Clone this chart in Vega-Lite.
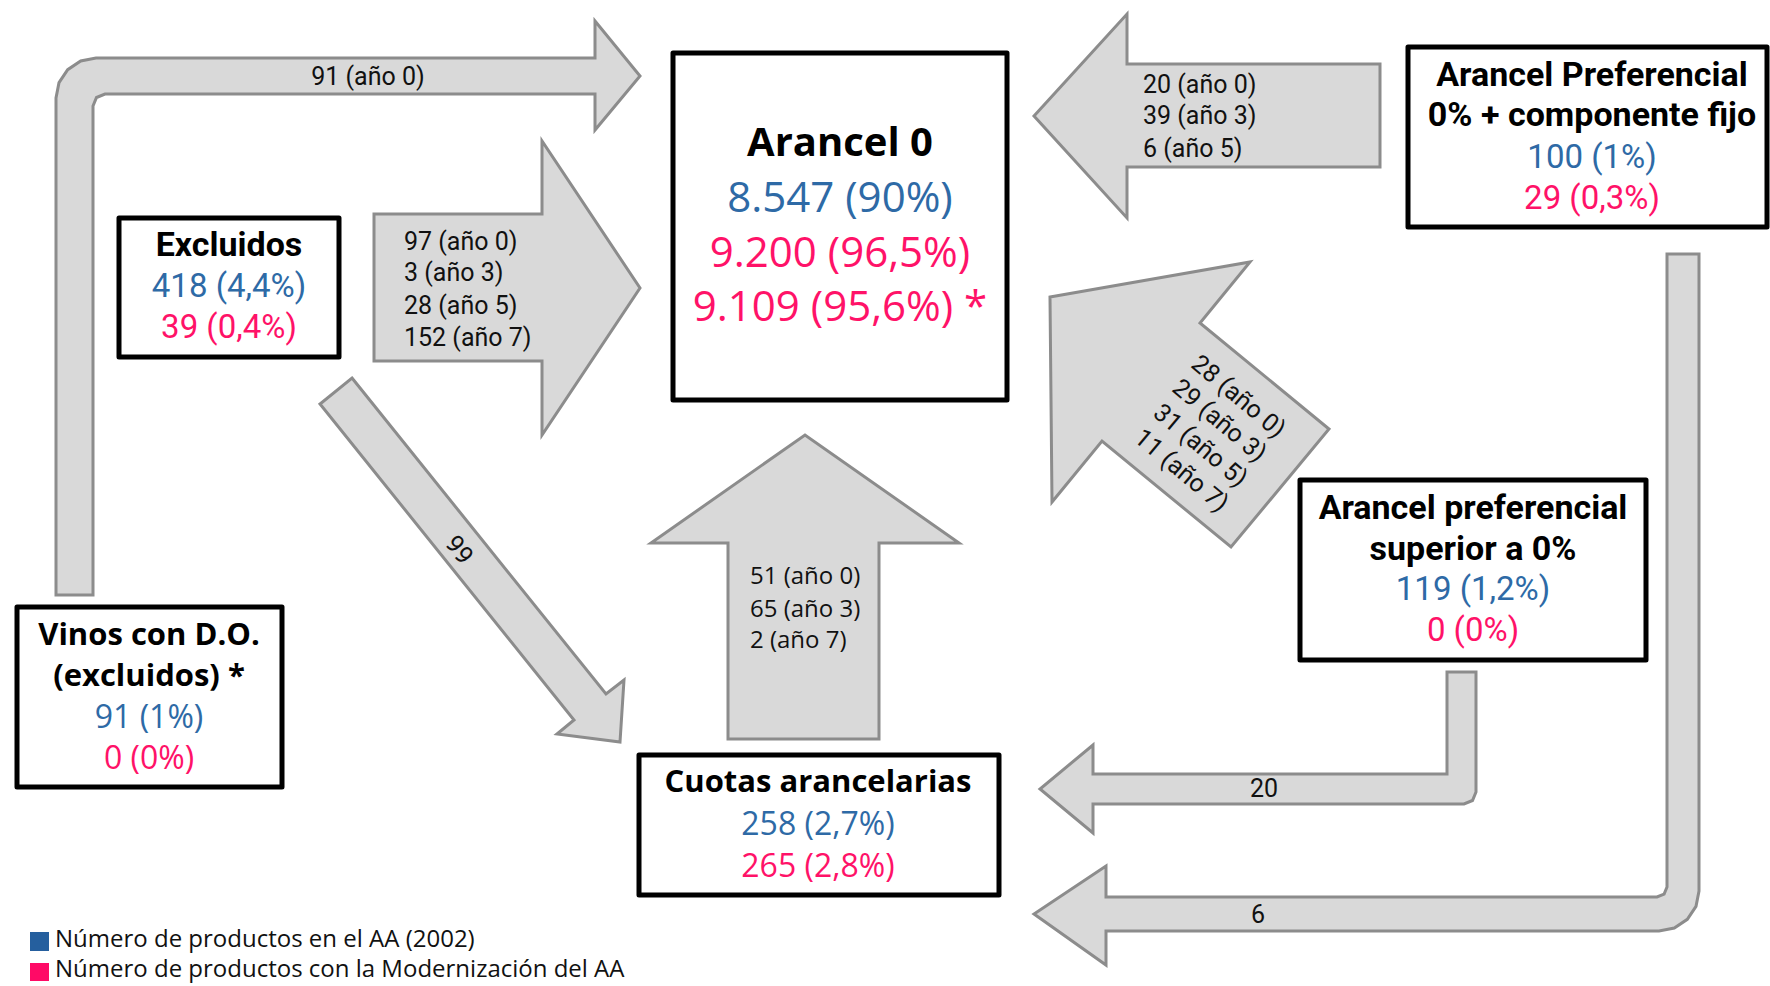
{
  "$schema": "https://vega.github.io/schema/vega-lite/v6.json",
  "width": 1770,
  "height": 986,
  "padding": 0,
  "autosize": "none",
  "background": "white",
  "config": {"view": {"stroke": null}},
  "projection": {"type": "identity", "scale": 1, "translate": [0, 0]},
  "datasets": {
    "arrows": [
      {"type": "Feature", "properties": {"id": "wines_to_zero"}, "geometry": {"type": "Polygon", "coordinates": [[[56,595],[56,98],[59,82.7],[67.7,69.7],[80.7,61],[96,58],[595,58],[595,21],[640,76],[595,130],[595,94],[105,94],[96.5,97.5],[93,106],[93,595],[56,595]]]}},
      {"type": "Feature", "properties": {"id": "excl_to_zero"}, "geometry": {"type": "Polygon", "coordinates": [[[374,214],[542,214],[542,141],[640,288],[542,435],[542,361],[374,361],[374,214]]]}},
      {"type": "Feature", "properties": {"id": "excl_to_quota"}, "geometry": {"type": "Polygon", "coordinates": [[[352,378],[606,694],[624,680],[620,742],[557,734],[574,720],[320,404],[352,378]]]}},
      {"type": "Feature", "properties": {"id": "pref_to_zero"}, "geometry": {"type": "Polygon", "coordinates": [[[1380,64],[1127,64],[1127,14],[1034,116],[1127,218],[1127,167],[1380,167],[1380,64]]]}},
      {"type": "Feature", "properties": {"id": "sup_to_zero"}, "geometry": {"type": "Polygon", "coordinates": [[[1050,297],[1250,262],[1200,323],[1329,429],[1231,547],[1102,441],[1052,502],[1050,297]]]}},
      {"type": "Feature", "properties": {"id": "pref_to_quota"}, "geometry": {"type": "Polygon", "coordinates": [[[1667,254],[1699,254],[1699,891],[1696,906.3],[1687.3,919.3],[1674.3,928],[1659,931],[1106,931],[1106,965],[1034,914],[1106,866],[1106,897],[1657,897],[1664.1,894.1],[1667,887],[1667,254]]]}},
      {"type": "Feature", "properties": {"id": "sup_to_quota"}, "geometry": {"type": "Polygon", "coordinates": [[[1447,672],[1476,672],[1476,792],[1472.5,800.5],[1464,804],[1093,804],[1093,833],[1040,789],[1093,745],[1093,774],[1447,774],[1447,672]]]}},
      {"type": "Feature", "properties": {"id": "quota_to_zero"}, "geometry": {"type": "Polygon", "coordinates": [[[728,739],[728,543],[651,543],[805,435],[959,543],[879,543],[879,739],[728,739]]]}}
    ],
    "boxes": [
      {"type": "Feature", "properties": {"id": "excluidos"}, "geometry": {"type": "Polygon", "coordinates": [[[119,218],[339,218],[339,357],[119,357],[119,218]]]}},
      {"type": "Feature", "properties": {"id": "arancel0"}, "geometry": {"type": "Polygon", "coordinates": [[[673,53],[1007,53],[1007,400],[673,400],[673,53]]]}},
      {"type": "Feature", "properties": {"id": "pref"}, "geometry": {"type": "Polygon", "coordinates": [[[1408,47],[1767,47],[1767,227],[1408,227],[1408,47]]]}},
      {"type": "Feature", "properties": {"id": "superior"}, "geometry": {"type": "Polygon", "coordinates": [[[1300,480],[1646,480],[1646,660],[1300,660],[1300,480]]]}},
      {"type": "Feature", "properties": {"id": "cuotas"}, "geometry": {"type": "Polygon", "coordinates": [[[639,755],[999,755],[999,895],[639,895],[639,755]]]}},
      {"type": "Feature", "properties": {"id": "vinos"}, "geometry": {"type": "Polygon", "coordinates": [[[17,607],[282,607],[282,787],[17,787],[17,607]]]}}
    ],
    "legend": [
      {"type": "Feature", "properties": {"series": "orig"}, "geometry": {"type": "Polygon", "coordinates": [[[30,932],[49,932],[49,951],[30,951],[30,932]]]}},
      {"type": "Feature", "properties": {"series": "mod"}, "geometry": {"type": "Polygon", "coordinates": [[[30,963],[49,963],[49,981],[30,981],[30,963]]]}}
    ],
    "texts": [
      {"g": "a0t", "s": "title", "x": 840, "y": 144, "t": "Arancel 0"},
      {"g": "a0v", "s": "orig", "x": 840, "y": 199, "t": "8.547 (90%)"},
      {"g": "a0v", "s": "mod", "x": 840, "y": 254, "t": "9.200 (96,5%)"},
      {"g": "a0v", "s": "mod", "x": 840, "y": 308, "t": "9.109 (95,6%) *"},

      {"g": "wt", "s": "title", "x": 818, "y": 783, "t": "Cuotas arancelarias"},
      {"g": "wv", "s": "orig", "x": 818, "y": 825, "t": "258 (2,7%)"},
      {"g": "wv", "s": "mod", "x": 818, "y": 867, "t": "265 (2,8%)"},

      {"g": "wt", "s": "title", "x": 149, "y": 636, "t": "Vinos con D.O."},
      {"g": "wt", "s": "title", "x": 149, "y": 677, "t": "(excluidos) *"},
      {"g": "wv", "s": "orig", "x": 149, "y": 718, "t": "91 (1%)"},
      {"g": "wv", "s": "mod", "x": 149, "y": 759, "t": "0 (0%)"},

      {"g": "nt", "s": "title", "x": 229, "y": 246, "t": "Excluidos"},
      {"g": "nv", "s": "orig", "x": 229, "y": 287, "t": "418 (4,4%)"},
      {"g": "nv", "s": "mod", "x": 229, "y": 328, "t": "39 (0,4%)"},

      {"g": "nt", "s": "title", "x": 1592, "y": 76, "t": "Arancel Preferencial"},
      {"g": "nt", "s": "title", "x": 1592, "y": 116, "t": "0% + componente fijo"},
      {"g": "nv", "s": "orig", "x": 1592, "y": 158, "t": "100 (1%)"},
      {"g": "nv", "s": "mod", "x": 1592, "y": 199, "t": "29 (0,3%)"},

      {"g": "nt", "s": "title", "x": 1473, "y": 509, "t": "Arancel preferencial"},
      {"g": "nt", "s": "title", "x": 1473, "y": 550, "t": "superior a 0%"},
      {"g": "nv", "s": "orig", "x": 1473, "y": 590, "t": "119 (1,2%)"},
      {"g": "nv", "s": "mod", "x": 1473, "y": 631, "t": "0 (0%)"},

      {"g": "lab", "s": "title", "x": 404, "y": 242, "t": "97 (año 0)"},
      {"g": "lab", "s": "title", "x": 404, "y": 273, "t": "3 (año 3)"},
      {"g": "lab", "s": "title", "x": 404, "y": 306, "t": "28 (año 5)"},
      {"g": "lab", "s": "title", "x": 404, "y": 338, "t": "152 (año 7)"},
      {"g": "lab", "s": "title", "x": 1143, "y": 85, "t": "20 (año 0)"},
      {"g": "lab", "s": "title", "x": 1143, "y": 116, "t": "39 (año 3)"},
      {"g": "lab", "s": "title", "x": 1143, "y": 149, "t": "6 (año 5)"},

      {"g": "labw", "s": "title", "x": 750, "y": 577, "t": "51 (año 0)"},
      {"g": "labw", "s": "title", "x": 750, "y": 610, "t": "65 (año 3)"},
      {"g": "labw", "s": "title", "x": 750, "y": 641, "t": "2 (año 7)"},

      {"g": "labc", "s": "title", "x": 368, "y": 77, "t": "91 (año 0)"},
      {"g": "labc", "s": "title", "x": 1264, "y": 789, "t": "20"},
      {"g": "labc", "s": "title", "x": 1258, "y": 915, "t": "6"},

      {"g": "rot", "s": "title", "x": 459, "y": 550, "t": "99"},

      {"g": "diag", "s": "title", "x": 1195, "y": 360, "t": "28 (año 0)"},
      {"g": "diag", "s": "title", "x": 1176, "y": 384, "t": "29 (año 3)"},
      {"g": "diag", "s": "title", "x": 1157, "y": 409, "t": "31 (año 5)"},
      {"g": "diag", "s": "title", "x": 1138, "y": 434, "t": "11 (año 7)"},

      {"g": "leg", "s": "title", "x": 55, "y": 940, "t": "Número de productos en el AA (2002)"},
      {"g": "leg", "s": "title", "x": 55, "y": 970, "t": "Número de productos con la Modernización del AA"}
    ]
  },
  "layer": [
    {
      "data": {"name": "arrows"},
      "mark": {"type": "geoshape", "fill": "#D9D9D9", "stroke": "#8C8C8C", "strokeWidth": 3, "strokeJoin": "miter"}
    },
    {
      "data": {"name": "boxes"},
      "mark": {"type": "geoshape", "fill": "#FFFFFF", "stroke": "#000000", "strokeWidth": 5, "strokeJoin": "round"}
    },
    {
      "data": {"name": "legend"},
      "transform": [{"filter": "datum.properties.series == 'orig'"}],
      "mark": {"type": "geoshape", "fill": "#255F9E", "strokeWidth": 0}
    },
    {
      "data": {"name": "legend"},
      "transform": [{"filter": "datum.properties.series == 'mod'"}],
      "mark": {"type": "geoshape", "fill": "#FF0A66", "strokeWidth": 0}
    },
    {
      "data": {"name": "texts"},
      "transform": [{"filter": "datum.g == 'a0t'"}],
      "mark": {"type": "text", "font": "Open Sans", "fontWeight": "bold", "fontSize": 40, "align": "center", "baseline": "middle", "color": "#000000"},
      "encoding": {"longitude": {"field": "x", "type": "quantitative"}, "latitude": {"field": "y", "type": "quantitative"}, "text": {"field": "t"}}
    },
    {
      "data": {"name": "texts"},
      "transform": [{"filter": "datum.g == 'a0v'"}],
      "mark": {"type": "text", "font": "Open Sans", "fontSize": 42, "align": "center", "baseline": "middle"},
      "encoding": {"longitude": {"field": "x", "type": "quantitative"}, "latitude": {"field": "y", "type": "quantitative"}, "text": {"field": "t"},
        "color": {"field": "s", "type": "nominal", "scale": {"domain": ["title", "orig", "mod"], "range": ["#000000", "#2E6AA6", "#FF1268"]}, "legend": null}}
    },
    {
      "data": {"name": "texts"},
      "transform": [{"filter": "datum.g == 'wt'"}],
      "mark": {"type": "text", "font": "Open Sans", "fontWeight": "bold", "fontSize": 31, "align": "center", "baseline": "middle", "color": "#000000"},
      "encoding": {"longitude": {"field": "x", "type": "quantitative"}, "latitude": {"field": "y", "type": "quantitative"}, "text": {"field": "t"}}
    },
    {
      "data": {"name": "texts"},
      "transform": [{"filter": "datum.g == 'wv'"}],
      "mark": {"type": "text", "font": "Open Sans", "fontSize": 32, "align": "center", "baseline": "middle"},
      "encoding": {"longitude": {"field": "x", "type": "quantitative"}, "latitude": {"field": "y", "type": "quantitative"}, "text": {"field": "t"},
        "color": {"field": "s", "type": "nominal", "scale": {"domain": ["title", "orig", "mod"], "range": ["#000000", "#2E6AA6", "#FF1268"]}, "legend": null}}
    },
    {
      "data": {"name": "texts"},
      "transform": [{"filter": "datum.g == 'nt'"}],
      "mark": {"type": "text", "font": "Roboto", "fontWeight": "bold", "fontSize": 34, "align": "center", "baseline": "middle", "color": "#000000"},
      "encoding": {"longitude": {"field": "x", "type": "quantitative"}, "latitude": {"field": "y", "type": "quantitative"}, "text": {"field": "t"}}
    },
    {
      "data": {"name": "texts"},
      "transform": [{"filter": "datum.g == 'nv'"}],
      "mark": {"type": "text", "font": "Roboto", "fontSize": 33, "align": "center", "baseline": "middle"},
      "encoding": {"longitude": {"field": "x", "type": "quantitative"}, "latitude": {"field": "y", "type": "quantitative"}, "text": {"field": "t"},
        "color": {"field": "s", "type": "nominal", "scale": {"domain": ["title", "orig", "mod"], "range": ["#000000", "#2E6AA6", "#FF1268"]}, "legend": null}}
    },
    {
      "data": {"name": "texts"},
      "transform": [{"filter": "datum.g == 'lab'"}],
      "mark": {"type": "text", "font": "Roboto", "fontSize": 25, "align": "left", "baseline": "middle", "color": "#111111"},
      "encoding": {"longitude": {"field": "x", "type": "quantitative"}, "latitude": {"field": "y", "type": "quantitative"}, "text": {"field": "t"}}
    },
    {
      "data": {"name": "texts"},
      "transform": [{"filter": "datum.g == 'labw'"}],
      "mark": {"type": "text", "font": "Open Sans", "fontSize": 24, "align": "left", "baseline": "middle", "color": "#111111"},
      "encoding": {"longitude": {"field": "x", "type": "quantitative"}, "latitude": {"field": "y", "type": "quantitative"}, "text": {"field": "t"}}
    },
    {
      "data": {"name": "texts"},
      "transform": [{"filter": "datum.g == 'labc'"}],
      "mark": {"type": "text", "font": "Roboto", "fontSize": 25, "align": "center", "baseline": "middle", "color": "#111111"},
      "encoding": {"longitude": {"field": "x", "type": "quantitative"}, "latitude": {"field": "y", "type": "quantitative"}, "text": {"field": "t"}}
    },
    {
      "data": {"name": "texts"},
      "transform": [{"filter": "datum.g == 'rot'"}],
      "mark": {"type": "text", "font": "Roboto", "fontSize": 25, "align": "center", "baseline": "middle", "angle": 52, "color": "#111111"},
      "encoding": {"longitude": {"field": "x", "type": "quantitative"}, "latitude": {"field": "y", "type": "quantitative"}, "text": {"field": "t"}}
    },
    {
      "data": {"name": "texts"},
      "transform": [{"filter": "datum.g == 'diag'"}],
      "mark": {"type": "text", "font": "Roboto", "fontSize": 25, "align": "left", "baseline": "middle", "angle": 40, "color": "#111111"},
      "encoding": {"longitude": {"field": "x", "type": "quantitative"}, "latitude": {"field": "y", "type": "quantitative"}, "text": {"field": "t"}}
    },
    {
      "data": {"name": "texts"},
      "transform": [{"filter": "datum.g == 'leg'"}],
      "mark": {"type": "text", "font": "Open Sans", "fontSize": 24, "align": "left", "baseline": "middle", "color": "#111111"},
      "encoding": {"longitude": {"field": "x", "type": "quantitative"}, "latitude": {"field": "y", "type": "quantitative"}, "text": {"field": "t"}}
    }
  ]
}
